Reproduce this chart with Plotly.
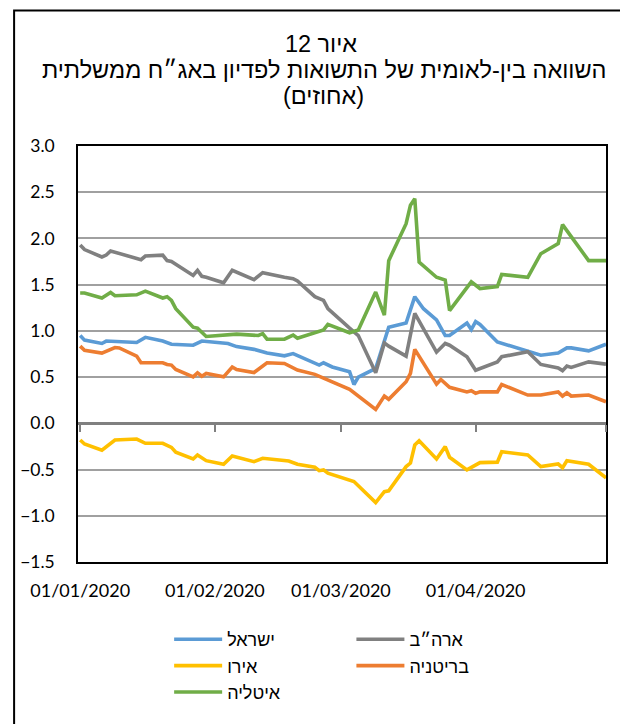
import plotly.graph_objects as go

YEAR = "2020"

# ---- data (dates as MM-DD of 2020, yields in percent) ----
israel_dates = ["01-01", "01-02", "01-06", "01-07", "01-14", "01-16", "01-20", "01-22", "01-27", "01-29",
                "02-04", "02-06", "02-10", "02-13", "02-17", "02-19", "02-25", "02-26", "02-28",
                "03-03", "03-04", "03-05", "03-09", "03-12", "03-16", "03-18", "03-20", "03-23", "03-25",
                "03-26", "03-30", "03-31",
                "04-01", "04-02", "04-06", "04-13", "04-16", "04-20", "04-22", "04-23", "04-27", "05-01"]
israel = [0.95, 0.90, 0.864, 0.89, 0.875, 0.93, 0.89, 0.856, 0.845, 0.89,
          0.864, 0.83, 0.80, 0.76, 0.73, 0.755, 0.63, 0.655, 0.61,
          0.557, 0.42, 0.50, 0.594, 1.04, 1.085, 1.37, 1.24, 1.12, 0.95,
          0.95, 1.085, 1.015,
          1.10, 1.07, 0.88, 0.774, 0.737, 0.76, 0.816, 0.816, 0.784, 0.856]

usa_dates = ["01-01", "01-02", "01-06", "01-07", "01-08", "01-14", "01-15", "01-16", "01-20", "01-21",
             "01-22", "01-27", "01-28", "01-29", "01-30",
             "02-03", "02-05", "02-10", "02-12", "02-17", "02-19", "02-20", "02-24", "02-26", "02-27",
             "03-03", "03-05", "03-09", "03-11", "03-12", "03-16", "03-18", "03-23", "03-25", "03-26", "03-30",
             "04-01", "04-06", "04-07", "04-13", "04-16", "04-20", "04-21", "04-22", "04-23", "04-27", "05-01"]
usa = [1.93, 1.88, 1.80, 1.82, 1.865, 1.79, 1.77, 1.81, 1.82, 1.76,
       1.75, 1.60, 1.655, 1.59, 1.58,
       1.52, 1.655, 1.555, 1.63, 1.58, 1.565, 1.54, 1.37, 1.33, 1.24,
       1.03, 0.95, 0.547, 0.87, 0.835, 0.727, 1.19, 0.77, 0.864, 0.845, 0.72,
       0.575, 0.665, 0.72, 0.774, 0.637, 0.60, 0.57, 0.62, 0.605, 0.665, 0.64]

euro_dates = ["01-01", "01-02", "01-06", "01-08", "01-09", "01-14", "01-16", "01-20", "01-22", "01-23",
              "01-27", "01-28", "01-30",
              "02-03", "02-05", "02-10", "02-12", "02-18", "02-20", "02-24", "02-25", "02-26", "02-27",
              "03-04", "03-09", "03-11", "03-12", "03-16", "03-17", "03-18", "03-19", "03-23", "03-25",
              "03-26", "03-30",
              "04-02", "04-06", "04-07", "04-13", "04-16", "04-20", "04-21", "04-22", "04-27", "05-01"]
euro = [-0.18, -0.224, -0.29, -0.216, -0.18, -0.17, -0.216, -0.216, -0.26, -0.313,
        -0.386, -0.342, -0.404,
        -0.443, -0.353, -0.415, -0.378, -0.407, -0.443, -0.475, -0.512, -0.504, -0.54,
        -0.63, -0.857, -0.74, -0.73, -0.468, -0.43, -0.234, -0.188, -0.385, -0.252,
        -0.367, -0.504,
        -0.425, -0.42, -0.307, -0.342, -0.468, -0.44, -0.48, -0.404, -0.443, -0.59]

uk_dates = ["01-01", "01-02", "01-06", "01-09", "01-10", "01-14", "01-15", "01-20", "01-21", "01-22",
            "01-23", "01-27", "01-28", "01-29", "01-30",
            "02-03", "02-05", "02-06", "02-10", "02-13", "02-17", "02-20", "02-24", "02-28",
            "03-02", "03-03", "03-09", "03-11", "03-12", "03-16", "03-17", "03-18", "03-23", "03-24",
            "03-26", "03-30", "03-31",
            "04-01", "04-02", "04-06", "04-07", "04-13", "04-16", "04-20", "04-21", "04-22", "04-23",
            "04-27", "05-01"]
uk = [0.835, 0.79, 0.76, 0.82, 0.816, 0.727, 0.655, 0.655, 0.637, 0.63,
      0.583, 0.503, 0.546, 0.51, 0.54,
      0.503, 0.61, 0.583, 0.55, 0.655, 0.648, 0.576, 0.53, 0.45,
      0.395, 0.367, 0.151, 0.295, 0.26, 0.45, 0.54, 0.80, 0.424, 0.475,
      0.39, 0.34, 0.352,
      0.324, 0.34, 0.34, 0.42, 0.306, 0.306, 0.34, 0.295, 0.33, 0.295,
      0.306, 0.233]

italy_dates = ["01-01", "01-02", "01-06", "01-08", "01-09", "01-14", "01-16", "01-20", "01-21", "01-22",
               "01-23", "01-27", "01-28", "01-30",
               "02-06", "02-11", "02-12", "02-13", "02-17", "02-19", "02-20", "02-26", "02-27",
               "03-03", "03-05", "03-09", "03-11", "03-12", "03-16", "03-17", "03-18", "03-19", "03-23",
               "03-25", "03-26", "03-31",
               "04-02", "04-06", "04-07", "04-13", "04-16", "04-20", "04-21", "04-24", "04-27", "05-01"]
italy = [1.41, 1.41, 1.356, 1.415, 1.38, 1.39, 1.43, 1.356, 1.37, 1.33,
         1.24, 1.04, 1.03, 0.94,
         0.965, 0.95, 0.97, 0.91, 0.91, 0.955, 0.92, 1.01, 1.07,
         0.98, 1.01, 1.42, 1.17, 1.76, 2.16, 2.36, 2.43, 1.745, 1.58,
         1.55, 1.22, 1.53,
         1.458, 1.48, 1.61, 1.58, 1.835, 1.944, 2.15, 1.96, 1.76, 1.76]

tick_dates = ["2020-01-01", "2020-02-01", "2020-03-01", "2020-04-01"]
tick_labels = ["01/01/2020", "01/02/2020", "01/03/2020", "01/04/2020"]
axis_tick_dates = tick_dates + ["2020-05-01"]
y_ticks = [-1.5, -1.0, -0.5, 0.0, 0.5, 1.0, 1.5, 2.0, 2.5, 3.0]

title_lines = ["איור 12", "השוואה בין-לאומית של התשואות לפדיון באג״ח ממשלתית", "(אחוזים)"]

series = [
    ("ישראל", israel_dates, israel, "#5B9BD5", "legend"),
    ("ארה״ב", usa_dates, usa, "#808080", "legend2"),
    ("אירו", euro_dates, euro, "#FFC000", "legend"),
    ("בריטניה", uk_dates, uk, "#ED7D31", "legend2"),
    ("איטליה", italy_dates, italy, "#70AD47", "legend"),
]

HEB = "Liberation Sans, DejaVu Sans, sans-serif"
NUM = "Lato, Noto Sans, sans-serif"
X_RANGE = ["2019-12-31 12:00", "2020-05-01 00:00"]

# plot area in figure pixels (page adds an 8px body margin)
OFF = 8
L, R, T, B = 65, 30, 138, 170
PW, PH = 628 - L - R, 724 - T - B


def px_x(x):  # page pixel -> paper x
    return (x - OFF - L) / PW


def px_y(y):  # page pixel -> paper y
    return (T + PH - (y - OFF)) / PH


fig = go.Figure()
for name, dts, vals, color, leg in series:
    fig.add_trace(go.Scatter(
        x=[YEAR + "-" + d for d in dts], y=vals, name=name, mode="lines",
        line=dict(color=color, width=3.6), legend=leg,
    ))

# invisible trace to host the zero-line axis with month ticks
fig.add_trace(go.Scatter(x=[tick_dates[0]], y=[None], xaxis="x2", yaxis="y",
                         showlegend=False, hoverinfo="skip"))

TITLE_FONT = dict(family=HEB, size=23.5, color="black")
legend_common = dict(xanchor="left", yanchor="top", orientation="v", itemwidth=48,
                     font=dict(family=HEB, size=18, color="black"),
                     bgcolor="rgba(0,0,0,0)", tracegroupgap=0)

fig.update_layout(
    width=628, height=724,
    margin=dict(l=L, r=R, t=T, b=B),
    paper_bgcolor="white", plot_bgcolor="white",
    title=dict(text=title_lines[0], x=(321 - OFF) / 628, xanchor="center",
               y=1 - (44 - OFF) / 724, yanchor="middle", yref="container", font=TITLE_FONT),
    annotations=[
        dict(text=title_lines[1], xref="paper", yref="paper", x=px_x(321), y=px_y(70),
             xanchor="center", yanchor="middle", showarrow=False, font=TITLE_FONT),
        dict(text=title_lines[2], xref="paper", yref="paper", x=px_x(321), y=px_y(96),
             xanchor="center", yanchor="middle", showarrow=False, font=TITLE_FONT),
    ],
    xaxis=dict(type="date", range=X_RANGE, tickvals=tick_dates, ticktext=tick_labels,
               ticks="", showgrid=False, zeroline=False,
               showline=True, mirror=True, linecolor="black", linewidth=1.5,
               tickfont=dict(family=NUM, size=18, color="black"), ticklabelstandoff=12),
    xaxis2=dict(type="date", range=X_RANGE, overlaying="x", anchor="free", position=1 / 3,
                tickvals=axis_tick_dates, showticklabels=False, ticks="outside", ticklen=7,
                tickwidth=2, tickcolor="#808080", showline=True, linecolor="#808080", linewidth=3,
                showgrid=False, zeroline=False),
    yaxis=dict(range=[-1.5, 3.0], tickvals=y_ticks, tickformat=".1f", ticks="",
               showgrid=True, gridcolor="#A0A0A0", gridwidth=1.5, zeroline=False,
               showline=True, mirror=True, linecolor="black", linewidth=1.5,
               tickfont=dict(family=NUM, size=17.5, color="black"), ticklabelstandoff=18),
    legend=dict(x=px_x(165), y=px_y(621), **legend_common),
    legend2=dict(x=px_x(349), y=px_y(621), **legend_common),
    shapes=[dict(type="rect", xref="paper", yref="paper",
                 x0=(0.5 - L) / PW, x1=1.3, y0=-0.6, y1=(T + PH - 2.5) / PH,
                 line=dict(color="black", width=2), fillcolor="rgba(0,0,0,0)", layer="below")],
    showlegend=True,
)

fig.write_html("out.html")
